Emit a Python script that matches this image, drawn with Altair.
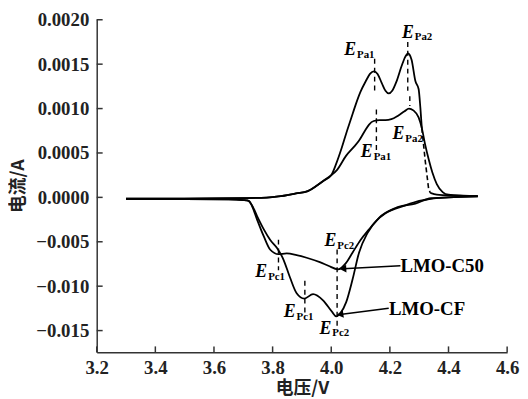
import altair as alt
import pandas as pd

# ---------------- data (voltage V, current A) ----------------
# forward (anodic) sweep, common to both samples up to 4.0 V
base_v = [3.30, 3.50, 3.70, 3.78, 3.82, 3.88, 3.92, 3.95, 3.975, 4.00]
base_i = [-0.00015, -0.00013, -0.00008, -0.00002, 0.00001, 0.000045, 0.00007, 0.00013, 0.00019, 0.00025]

cf_an_v = [4.017, 4.035, 4.051, 4.068, 4.084, 4.100, 4.118, 4.132, 4.145, 4.158, 4.172, 4.185,
           4.196, 4.208, 4.222, 4.240, 4.252, 4.262, 4.274, 4.287, 4.298, 4.304, 4.309]
cf_an_i = [0.00038, 0.00055, 0.00072, 0.00089, 0.00105, 0.00119, 0.00131, 0.00139, 0.00142, 0.00139,
           0.00129, 0.00120, 0.00117, 0.00120, 0.00130, 0.00148, 0.00158, 0.00162, 0.00155, 0.00131,
           0.00122, 0.00101, 0.00078]
cf_dash_v = [4.309, 4.321, 4.332, 4.338]
cf_dash_i = [0.00078, 0.00040, 0.00010, 0.00005]
cf_tail_v = [4.338, 4.36, 4.42, 4.50]
cf_tail_i = [0.00005, 0.00003, 0.00002, 0.000015]

c50_an_v = [4.020, 4.051, 4.075, 4.095, 4.115, 4.129, 4.145, 4.165, 4.185, 4.205, 4.228, 4.250,
            4.265, 4.280, 4.298, 4.309, 4.320, 4.333, 4.345, 4.360, 4.380, 4.400, 4.450, 4.500]
c50_an_i = [0.00031, 0.00047, 0.00056, 0.00064, 0.00075, 0.00082, 0.00086, 0.00087, 0.00087, 0.00088,
            0.00092, 0.00097, 0.00100, 0.00098, 0.00090, 0.00078, 0.00060, 0.00042, 0.00028, 0.00015,
            0.00006, 0.00003, 0.00002, 0.000015]

# reverse (cathodic) sweep
cf_ca_v = [3.30, 3.50, 3.65, 3.70, 3.714, 3.730, 3.747, 3.770, 3.792, 3.815, 3.837, 3.859, 3.882,
           3.908, 3.938, 3.972, 4.003, 4.017, 4.032, 4.051, 4.073, 4.095, 4.124, 4.163, 4.219, 4.287,
           4.340, 4.400, 4.500]
cf_ca_i = [-0.0002, -0.0002, -0.00022, -0.0003, -0.00035, -0.0009, -0.0021, -0.0036, -0.0048, -0.0057,
           -0.0070, -0.0090, -0.0108, -0.0114, -0.0109, -0.0116, -0.0129, -0.0134, -0.0130, -0.0118,
           -0.0092, -0.0062, -0.0040, -0.0023, -0.0012, -0.0007, -0.0001, 0.0, 0.00001]
c50_ca_v = [3.30, 3.50, 3.65, 3.70, 3.719, 3.730, 3.747, 3.770, 3.792, 3.820, 3.848, 3.882, 3.916,
            3.961, 3.990, 4.023, 4.050, 4.073, 4.100, 4.129, 4.155, 4.185, 4.253, 4.300, 4.350,
            4.400, 4.500]
c50_ca_i = [-0.0002, -0.0002, -0.00022, -0.0003, -0.0004, -0.0010, -0.0025, -0.0044, -0.0059, -0.0064,
            -0.0063, -0.0065, -0.0068, -0.0073, -0.0077, -0.0081, -0.0074, -0.0062, -0.0048, -0.0036,
            -0.0026, -0.0018, -0.0009, -0.0004, -0.0001, 0.0, 0.00001]

# peak markers (dashed verticals): voltage, current from, current to
mk_v = [4.148, 4.154, 4.261, 4.268, 3.820, 3.910, 4.020]
mk_i1 = [0.00156, 0.00099, 0.00175, 0.00114, -0.00476, -0.00940, -0.00587]
mk_i2 = [0.00116, 0.00053, 0.00120, 0.00103, -0.00821, -0.01344, -0.01478]

# peak labels E_xx
lab_sub = ["Pa1", "Pa2", "Pa1", "Pa2", "Pc2", "Pc1", "Pc1", "Pc2"]
lab_v = [4.044, 4.241, 4.101, 4.209, 3.977, 3.741, 3.838, 3.960]
lab_i = [0.00160, 0.00180, 0.000454, 0.00066, -0.00548, -0.00899, -0.01344, -0.01533]

# sample names with arrows
names = ["LMO-C50", "LMO-CF"]
name_v = [4.236, 4.197]
name_i = [-0.00843, -0.01327]
arr_v1 = [4.236, 4.196]
arr_i1 = [-0.00771, -0.01249]
arr_v2 = [4.040, 4.030]
arr_i2 = [-0.00804, -0.01318]
head_ang = [357, 352.5]

x_ticks = [3.2, 3.4, 3.6, 3.8, 4.0, 4.2, 4.4, 4.6]
y_ticks = [0.0020, 0.0015, 0.0010, 0.0005, 0.0, -0.005, -0.010, -0.015]


def tf(i):
    # positive branch is drawn 10x expanded (broken-scale axis of the original)
    return i * 10 if i > 0 else i


rows = []
def add(series, vs, is_):
    for v, i in zip(vs, is_):
        rows.append({"V": v, "I": i, "disp": tf(i), "series": series})

add("cf_an", base_v + cf_an_v, base_i + cf_an_i)
add("cf_tail", cf_tail_v, cf_tail_i)
add("c50_an", base_v + c50_an_v, base_i + c50_an_i)
add("cf_ca", cf_ca_v, cf_ca_i)
add("c50_ca", c50_ca_v, c50_ca_i)
df_curves = pd.DataFrame(rows)
df_dash = pd.DataFrame({"V": cf_dash_v, "disp": [tf(i) for i in cf_dash_i]})
df_mk = pd.DataFrame({"V": mk_v, "disp": [tf(i) for i in mk_i1], "disp2": [tf(i) for i in mk_i2]})
df_lab = pd.DataFrame({"V": lab_v, "disp": [tf(i) for i in lab_i], "sub": lab_sub, "E": ["E"] * len(lab_sub)})
df_names = pd.DataFrame({"V": name_v, "disp": name_i, "t": names})
df_arr = pd.DataFrame({"V": arr_v1, "disp": arr_i1, "V2": arr_v2, "disp2": arr_i2})
df_head = pd.DataFrame({"V": arr_v2, "disp": arr_i2, "ang": head_ang})
df_xt = pd.DataFrame({"V": x_ticks})
df_yt = pd.DataFrame({"disp": [tf(v) for v in y_ticks]})

W, H = 415, 337
SERIF = "Liberation Serif"
CJK = "Noto Sans CJK SC"

x_scale = alt.Scale(domain=[3.2, 4.6], nice=False, zero=False)
y_scale = alt.Scale(domain=[-0.01745, 0.02008], nice=False, zero=False)
x_axis = alt.Axis(values=x_ticks, format=".1f", title="电压/V", ticks=False, grid=False,
                  labelFlush=False, labelPadding=6, titlePadding=3)
y_axis = alt.Axis(values=[tf(v) for v in y_ticks], title="电流/A", ticks=False, grid=False,
                  labelFlush=False, labelPadding=8, titlePadding=8,
                  labelExpr="datum.value > 0.0001 ? format(datum.value/10, '.4f') : (datum.value < -0.0001 ? format(datum.value, '.3f') : '0.0000')")


def xe(f):
    return alt.X(f"{f}:Q", scale=x_scale, axis=x_axis)


def ye(f):
    return alt.Y(f"{f}:Q", scale=y_scale, axis=y_axis)


curves = alt.Chart(df_curves).mark_line(color="black", strokeWidth=1.8, interpolate="monotone").encode(
    x=xe("V"), y=ye("disp"), detail="series:N", order="V:Q")
dash = alt.Chart(df_dash).mark_line(color="black", strokeWidth=1.6, strokeDash=[5, 3]).encode(
    x=xe("V"), y=ye("disp"))
markers = alt.Chart(df_mk).mark_rule(color="black", strokeWidth=1.4, strokeDash=[5, 4]).encode(
    x=xe("V"), y=ye("disp"), y2="disp2")
lab_E = alt.Chart(df_lab).mark_text(align="left", baseline="alphabetic", font=SERIF, fontStyle="italic",
                                    fontWeight="bold", fontSize=18, color="black").encode(
    x=xe("V"), y=ye("disp"), text="E:N")
lab_S = alt.Chart(df_lab).mark_text(align="left", baseline="alphabetic", font=SERIF, fontWeight="bold",
                                    fontSize=11, dx=13, dy=3, color="black").encode(
    x=xe("V"), y=ye("disp"), text="sub:N")
name_txt = alt.Chart(df_names).mark_text(align="left", baseline="alphabetic", font=SERIF, fontWeight="bold",
                                         fontSize=19, color="black").encode(
    x=xe("V"), y=ye("disp"), text="t:N")
arrows = alt.Chart(df_arr).mark_rule(color="black", strokeWidth=1.5).encode(
    x=xe("V"), x2="V2", y=ye("disp"), y2="disp2")
heads = alt.Chart(df_head).mark_point(shape="triangle-left", filled=True, size=60, color="black", opacity=1).encode(
    x=xe("V"), y=ye("disp"), angle=alt.Angle("ang:Q", scale=None))
xt = alt.Chart(df_xt).mark_rule(color="#333", strokeWidth=1.5).encode(
    x=xe("V"), y=alt.value(H), y2=alt.value(H - 6))
yt = alt.Chart(df_yt).mark_rule(color="#333", strokeWidth=1.5).encode(
    y=ye("disp"), x=alt.value(0), x2=alt.value(6))

chart = alt.layer(curves, dash, markers, lab_E, lab_S, name_txt, arrows, heads, xt, yt).properties(
    width=W, height=H,
    autosize=alt.AutoSizeParams(type="none"),
    padding={"left": 89.7, "top": 9, "right": 13, "bottom": 44},
).configure_view(stroke=None).configure_axis(
    domainColor="#333", domainWidth=1.5,
    labelFont=SERIF, labelFontWeight="bold", labelFontSize=19, labelColor="#222",
    titleFont=CJK, titleFontWeight="bold", titleFontSize=18, titleColor="#222",
)

chart.save("out.html", embed_options={"renderer": "svg", "actions": False})
